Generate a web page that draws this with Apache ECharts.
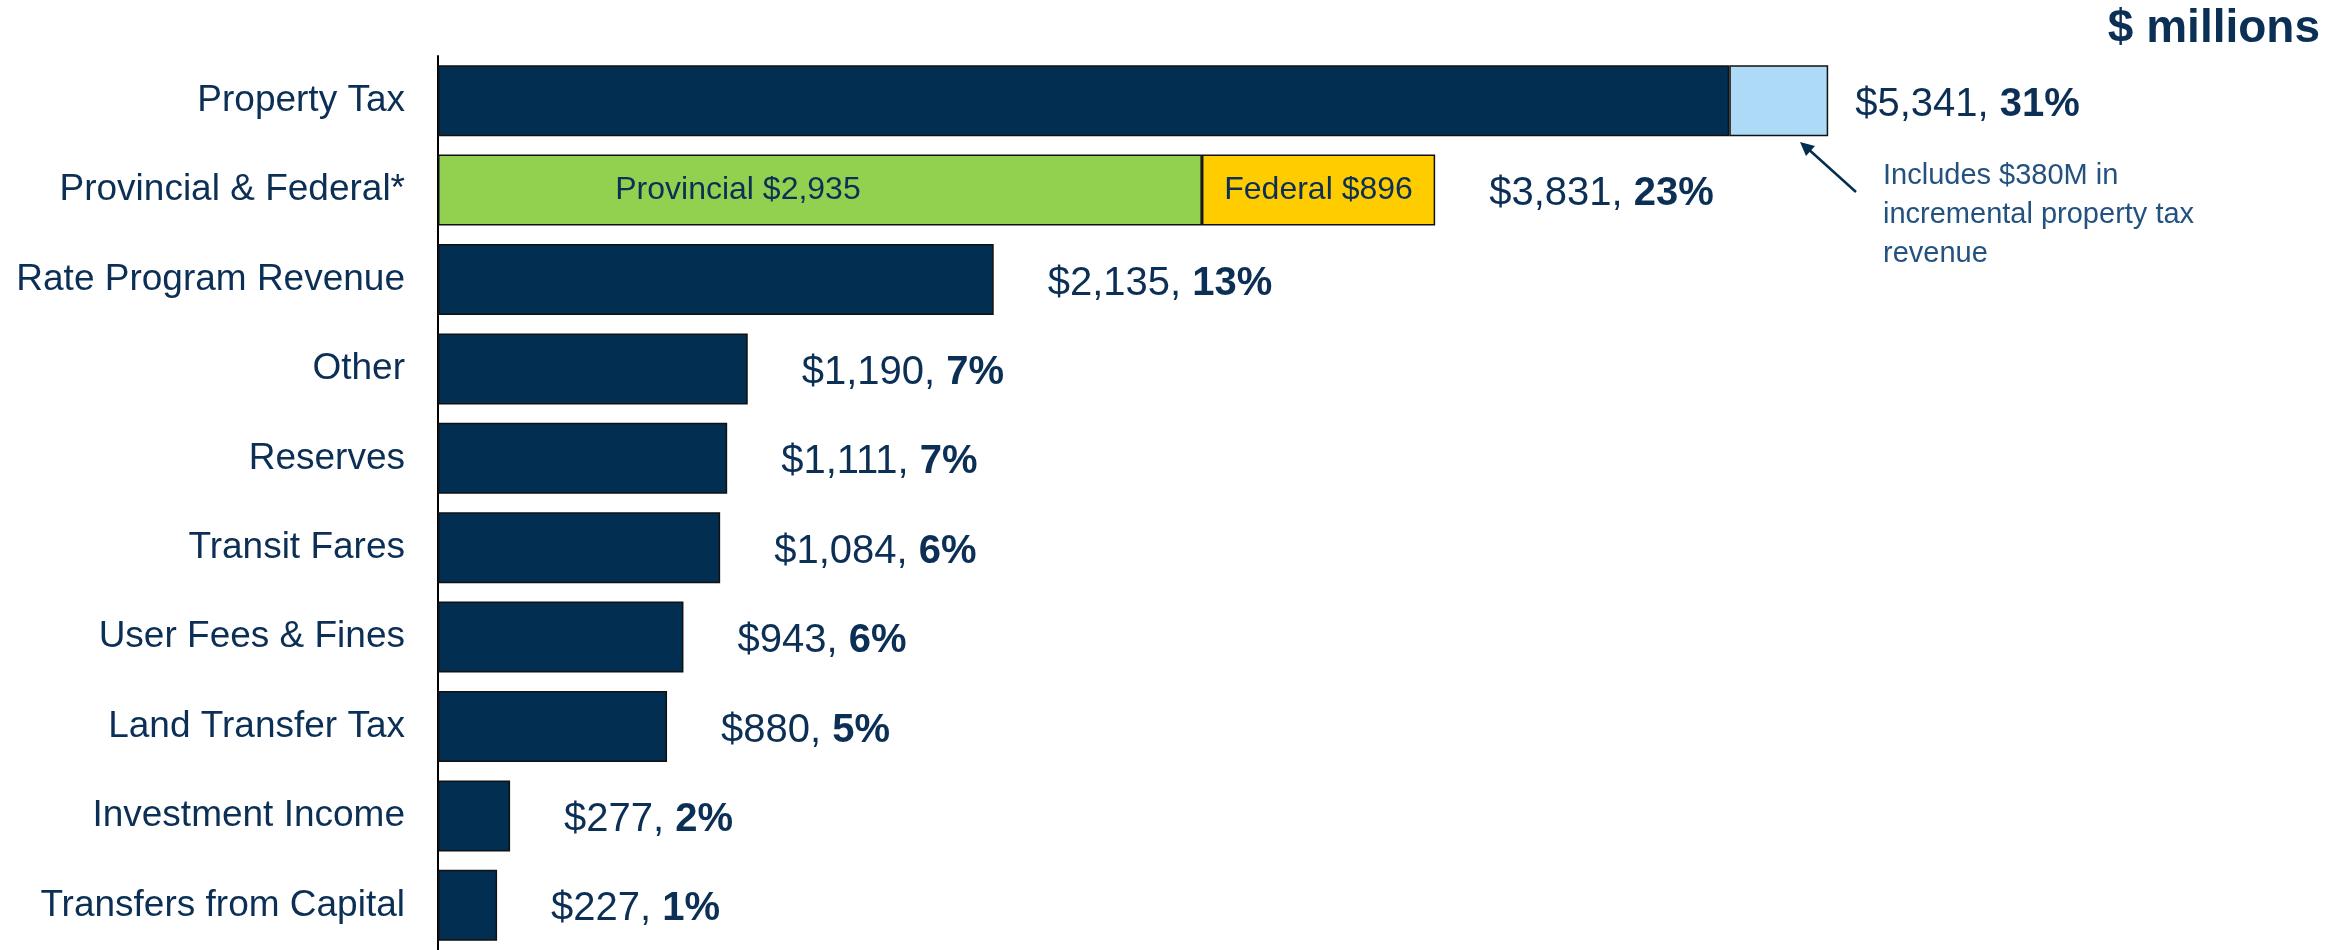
<!DOCTYPE html>
<html>
<head>
<meta charset="utf-8">
<script src="https://cdn.jsdelivr.net/npm/echarts@6/dist/echarts.min.js"></script>
<style>
html,body{margin:0;padding:0;background:#fff;}
#chart{width:2346px;height:950px;}
</style>
</head>
<body>
<div id="chart"></div>
<script>
var categories = ['Property Tax','Provincial & Federal*','Rate Program Revenue','Other','Reserves','Transit Fares','User Fees & Fines','Land Transfer Tax','Investment Income','Transfers from Capital'];
var baseValues = [4961, 0, 2135, 1190, 1111, 1084, 943, 880, 277, 227];
var provincial = [0, 2935, 0, 0, 0, 0, 0, 0, 0, 0];
var federal = [0, 896, 0, 0, 0, 0, 0, 0, 0, 0];
var incremental = [380, 0, 0, 0, 0, 0, 0, 0, 0, 0];
var totals = [5341, 3831, 2135, 1190, 1111, 1084, 943, 880, 277, 227];
var shares = [31, 23, 13, 7, 7, 6, 6, 5, 2, 1];

var navy = '#022e52';
var textNavy = '#0b2f55';
var chart = echarts.init(document.getElementById('chart'));

function nz(arr){
    return arr.map(function(v){ return v ? v : '-'; });
}

var barStyle = {borderColor:'#111', borderWidth:1.5};

option = {
    animation: false,
    textStyle: {fontFamily: 'Liberation Sans, Arial, sans-serif'},
    grid: {left: 438, top: 56, height: 900, right: 86},
    xAxis: {
        type: 'value',
        min: 0,
        max: 7000,
        show: false
    },
    yAxis: {
        type: 'category',
        data: categories,
        inverse: true,
        axisLine: {show: true, lineStyle: {color: '#000', width: 2}},
        axisTick: {show: false},
        axisLabel: {color: textNavy, fontSize: 37, margin: 33, padding: [4, 0, 0, 0]}
    },
    series: [
        {
            name: 'base', type: 'bar', stack: 'rev', barWidth: 71,
            itemStyle: Object.assign({color: navy}, barStyle),
            data: nz(baseValues)
        },
        {
            name: 'Provincial', type: 'bar', stack: 'rev', barWidth: 71,
            itemStyle: Object.assign({color: '#92d050'}, barStyle),
            label: {show: true, position: 'inside', offset: [-82, 0], color: textNavy, fontSize: 32,
                formatter: function(p){ return 'Provincial $' + p.value.toLocaleString('en-US'); }},
            data: nz(provincial)
        },
        {
            name: 'Federal', type: 'bar', stack: 'rev', barWidth: 71,
            itemStyle: Object.assign({color: '#ffcc00'}, barStyle),
            label: {show: true, position: 'inside', color: textNavy, fontSize: 32,
                formatter: function(p){ return 'Federal $' + p.value.toLocaleString('en-US'); }},
            data: nz(federal)
        },
        {
            name: 'Incremental', type: 'bar', stack: 'rev', barWidth: 71,
            itemStyle: Object.assign({color: '#acdaf7'}, barStyle),
            data: nz(incremental)
        },
        {
            name: 'total', type: 'bar', stack: 'rev', barWidth: 71,
            itemStyle: {color: 'rgba(0,0,0,0)', borderWidth: 0},
            label: {
                show: true,
                position: 'right',
                offset: [0, 4],
                formatter: function(p){
                    return '{v|$' + totals[p.dataIndex].toLocaleString('en-US') + ', }{p|' + shares[p.dataIndex] + '%}';
                },
                rich: {
                    v: {color: textNavy, fontSize: 40},
                    p: {color: textNavy, fontSize: 40, fontWeight: 'bold'}
                }
            },
            data: totals.map(function(t, i){
                return {value: 0, label: {distance: i === 0 ? 27 : 54}};
            })
        }
    ],
    graphic: [
        {
            type: 'text', right: 26, top: 6,
            style: {text: '$ millions', fill: textNavy, font: 'bold 46px Liberation Sans, Arial, sans-serif'}
        },
        {
            type: 'text', left: 1883, top: 156,
            style: {
                text: 'Includes $380M in\nincremental property tax\nrevenue',
                fill: '#24527f', font: '29px Liberation Sans, Arial, sans-serif', lineHeight: 39
            }
        },
        {
            type: 'line',
            shape: {x1: 1856, y1: 192, x2: 1806, y2: 147},
            style: {stroke: navy, lineWidth: 2.5}
        },
        {
            type: 'polygon',
            shape: {points: [[1800, 142], [1815, 146], [1806, 156]]},
            style: {fill: navy}
        }
    ]
};
chart.setOption(option);
</script>
</body>
</html>
